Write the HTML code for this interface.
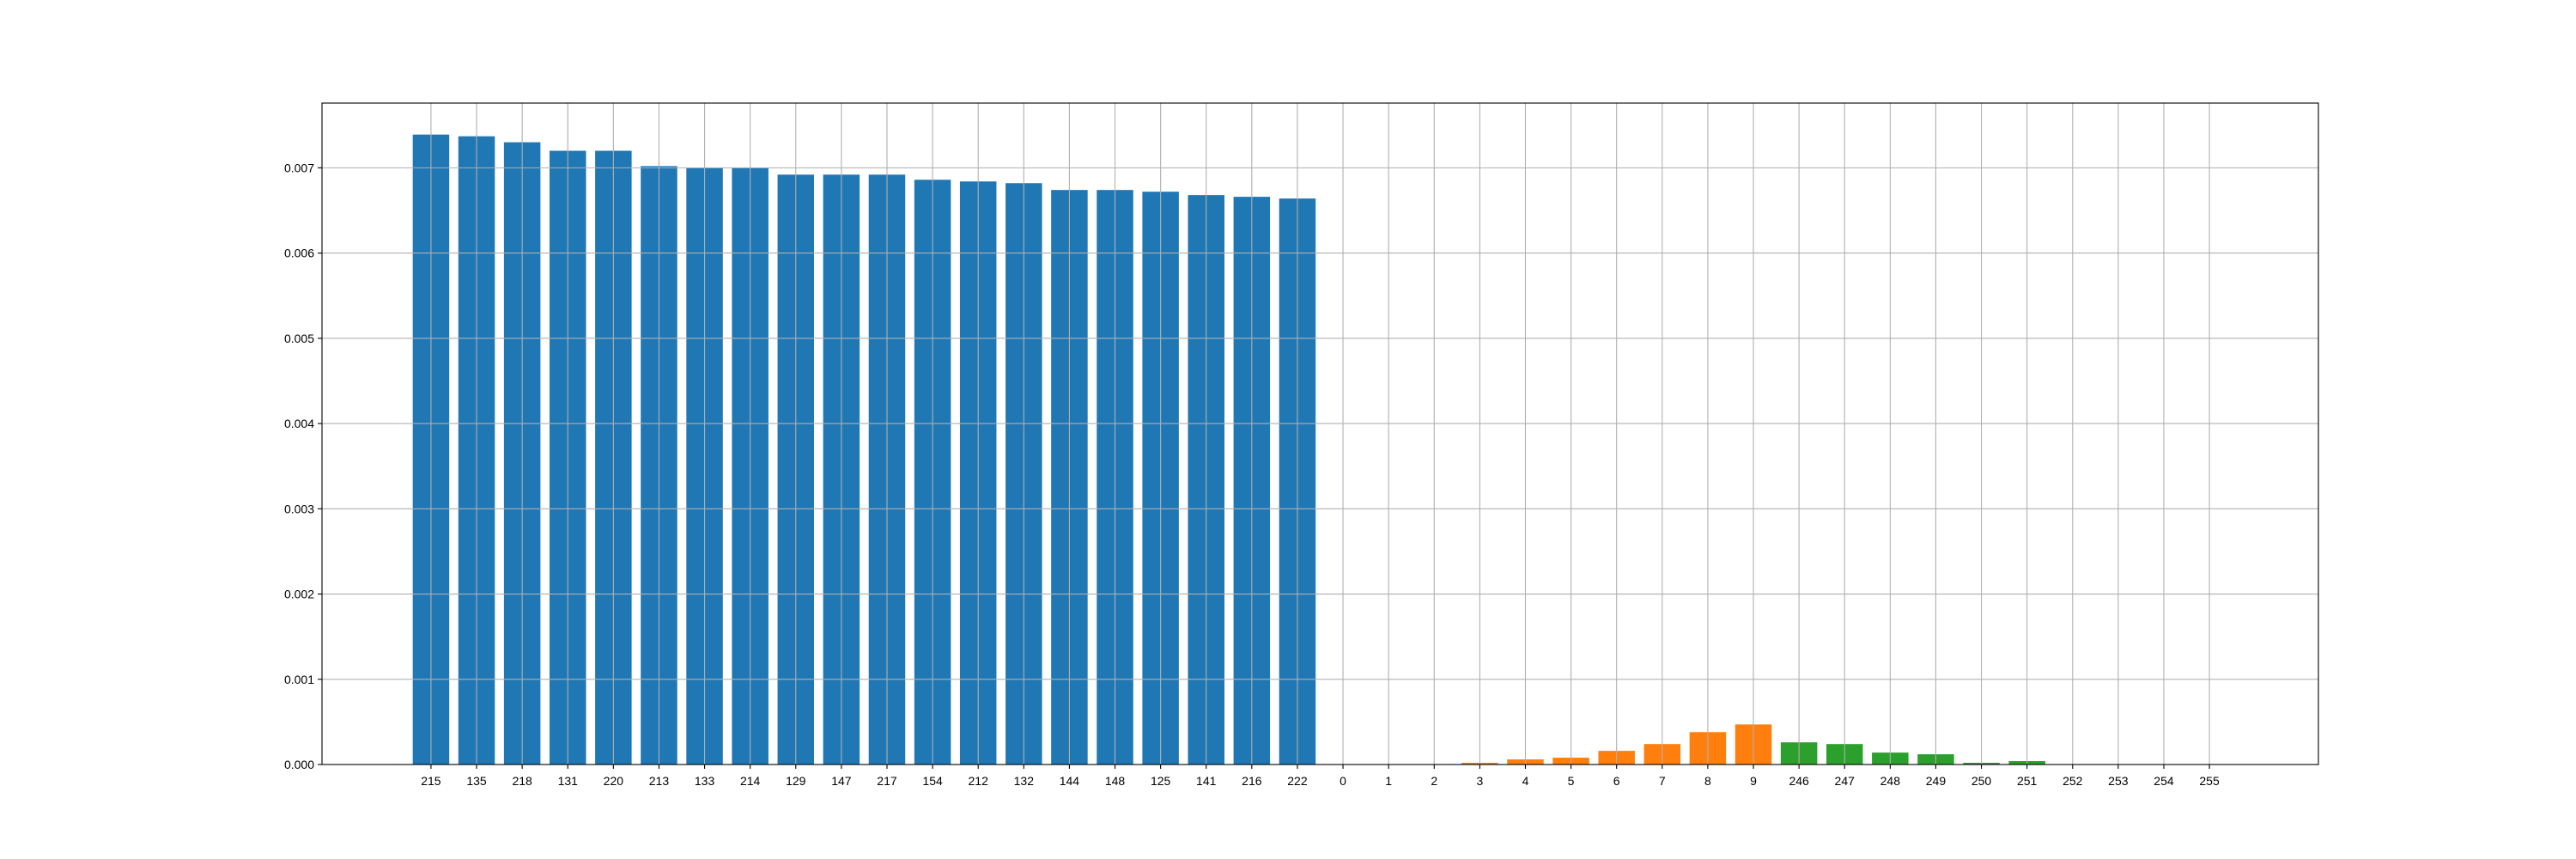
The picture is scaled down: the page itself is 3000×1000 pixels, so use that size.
<!DOCTYPE html>
<html><head><meta charset="utf-8"><style>
html,body{margin:0;padding:0;background:#fff;}
svg{display:block;font-family:"Liberation Sans","DejaVu Sans",sans-serif;}
</style></head><body>
<svg id="chart" width="3000" height="1000" viewBox="0 0 3000 1000" xmlns="http://www.w3.org/2000/svg">
<rect width="3000" height="1000" fill="#fff"/>
<g id="bars"></g>
<g id="grid"></g>
<g id="axes"></g>
</svg>
<script>
const categories = ["215","135","218","131","220","213","133","214","129","147","217","154","212","132","144","148","125","141","216","222","0","1","2","3","4","5","6","7","8","9","246","247","248","249","250","251","252","253","254","255"];
const values = [0.00739,0.00737,0.0073,0.0072,0.0072,0.00702,0.007,0.007,0.00692,0.00692,0.00692,0.00686,0.00684,0.00682,0.00674,0.00674,0.00672,0.00668,0.00666,0.00664,0,0,0,0.00002,0.00006,0.00008,0.00016,0.00024,0.00038,0.00047,0.00026,0.00024,0.00014,0.00012,0.00002,0.00004,0,0,0,0];
const groups = ["blue","blue","blue","blue","blue","blue","blue","blue","blue","blue","blue","blue","blue","blue","blue","blue","blue","blue","blue","blue","orange","orange","orange","orange","orange","orange","orange","orange","orange","orange","green","green","green","green","green","green","green","green","green","green"];
const yTicks = [0,0.001,0.002,0.003,0.004,0.005,0.006,0.007];
const yTickLabels = ["0.000","0.001","0.002","0.003","0.004","0.005","0.006","0.007"];

const NS="http://www.w3.org/2000/svg";
const L=375,R=2700,T=120,B=890;
const n=categories.length;
const xmin=-0.4-0.05*(n-0.2), xmax=n-1+0.4+0.05*(n-0.2);
const ymax=Math.max(...values)*1.05;
const xs=i=>L+(i-xmin)/(xmax-xmin)*(R-L);
const ys=v=>B-v/ymax*(B-T);
const colors={blue:"#1f77b4",orange:"#ff7f0e",green:"#2ca02c"};
function mk(tag,attrs,parent){const e=document.createElementNS(NS,tag);for(const k in attrs)e.setAttribute(k,attrs[k]);parent.appendChild(e);return e;}
const bars=document.getElementById('bars'),grid=document.getElementById('grid'),axes=document.getElementById('axes');
const bw=0.8*(xs(1)-xs(0));
values.forEach((v,i)=>{
  const y=ys(v);
  const r=mk('rect',{x:xs(i)-bw/2,y:y,width:bw,height:B-y,fill:colors[groups[i]]},bars);
  
  
});
categories.forEach((c,i)=>{
  const x=xs(i);
  const g=mk('line',{x1:x,x2:x,y1:T,y2:B,stroke:"#b0b0b0","stroke-width":1.1},grid);
  
  
  mk('line',{x1:x,x2:x,y1:B,y2:B+5,stroke:"#000","stroke-width":1.1},axes);
  const t=mk('text',{x:x,y:B+24,"text-anchor":"middle","font-size":14,fill:"#000"},axes);
  t.textContent=c;
  
  
});
yTicks.forEach((v,i)=>{
  const y=ys(v);
  const g=mk('line',{x1:L,x2:R,y1:y,y2:y,stroke:"#b0b0b0","stroke-width":1.1},grid);
  
  
  mk('line',{x1:L-5,x2:L,y1:y,y2:y,stroke:"#000","stroke-width":1.1},axes);
  const t=mk('text',{x:L-9,y:y+5,"text-anchor":"end","font-size":14,fill:"#000"},axes);
  t.textContent=yTickLabels[i];
  
  
});
const frame=mk('rect',{x:L,y:T,width:R-L,height:B-T,fill:"none",stroke:"#000","stroke-width":1.1},axes);


</script>
</body></html>
